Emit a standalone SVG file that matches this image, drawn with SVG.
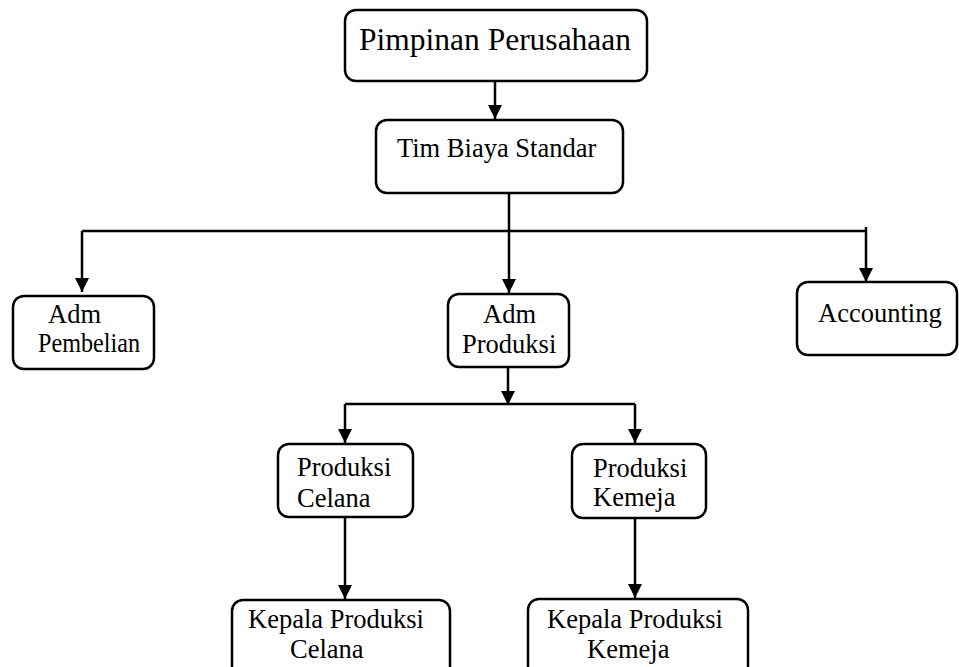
<svg xmlns="http://www.w3.org/2000/svg" width="959" height="667" viewBox="0 0 959 667">
<defs>
<marker id="arr" markerUnits="userSpaceOnUse" markerWidth="14" markerHeight="14" refX="14" refY="7" orient="auto">
<path d="M0,0 L14,7 L0,14 z" fill="#000"/>
</marker>
<style>
.box{fill:#fff;stroke:#000;stroke-width:2.5}
.t{font-family:"Liberation Serif","Times New Roman",serif;font-size:26.5px;fill:#000}
.big{font-size:31.5px}
.c{fill:none;stroke:#000;stroke-width:2.5}
.a{marker-end:url(#arr)}
</style>
</defs>
<rect width="959" height="667" fill="#fff"/>
<g id="connectors">
<line class="c a" x1="495" y1="81" x2="495" y2="119"/>
<line class="c a" x1="509" y1="193" x2="509" y2="293"/>
<line class="c" x1="82" y1="231" x2="867" y2="231"/>
<line class="c a" x1="82" y1="231" x2="82" y2="292"/>
<line class="c a" x1="866" y1="227" x2="866" y2="282"/>
<line class="c a" x1="508" y1="367" x2="508" y2="405"/>
<line class="c" x1="345" y1="404" x2="635" y2="404"/>
<line class="c a" x1="345" y1="404" x2="345" y2="443"/>
<line class="c a" x1="635" y1="404" x2="635" y2="443"/>
<line class="c a" x1="345" y1="517" x2="345" y2="599"/>
<line class="c a" x1="635" y1="518" x2="635" y2="598"/>
</g>
<g id="pimpinan">
<rect class="box" x="345" y="10" width="302" height="71" rx="11"/>
<text class="t big" x="359" y="50">Pimpinan Perusahaan</text>
</g>
<g id="tim">
<rect class="box" x="376" y="120" width="247" height="73" rx="11"/>
<text class="t" x="397" y="157">Tim Biaya Standar</text>
</g>
<g id="adm-pembelian">
<rect class="box" x="13" y="296" width="141" height="73" rx="11"/>
<text class="t" x="48" y="323">Adm</text>
<text class="t" x="38" y="352" textLength="102" lengthAdjust="spacingAndGlyphs">Pembelian</text>
</g>
<g id="adm-produksi">
<rect class="box" x="448" y="294" width="121" height="73" rx="11"/>
<text class="t" x="483" y="323">Adm</text>
<text class="t" x="462" y="353">Produksi</text>
</g>
<g id="accounting">
<rect class="box" x="797" y="282" width="160" height="73" rx="11"/>
<text class="t" x="818" y="322">Accounting</text>
</g>
<g id="produksi-celana">
<rect class="box" x="278" y="444" width="135" height="73" rx="11"/>
<text class="t" x="297" y="476">Produksi</text>
<text class="t" x="297" y="507">Celana</text>
</g>
<g id="produksi-kemeja">
<rect class="box" x="572" y="444" width="134" height="74" rx="11"/>
<text class="t" x="593" y="477">Produksi</text>
<text class="t" x="593" y="506">Kemeja</text>
</g>
<g id="kepala-celana">
<rect class="box" x="232" y="600" width="218" height="80" rx="11"/>
<text class="t" x="248" y="628">Kepala Produksi</text>
<text class="t" x="290" y="658">Celana</text>
</g>
<g id="kepala-kemeja">
<rect class="box" x="528" y="599" width="220" height="80" rx="11"/>
<text class="t" x="547" y="628">Kepala Produksi</text>
<text class="t" x="587" y="658">Kemeja</text>
</g>
</svg>
